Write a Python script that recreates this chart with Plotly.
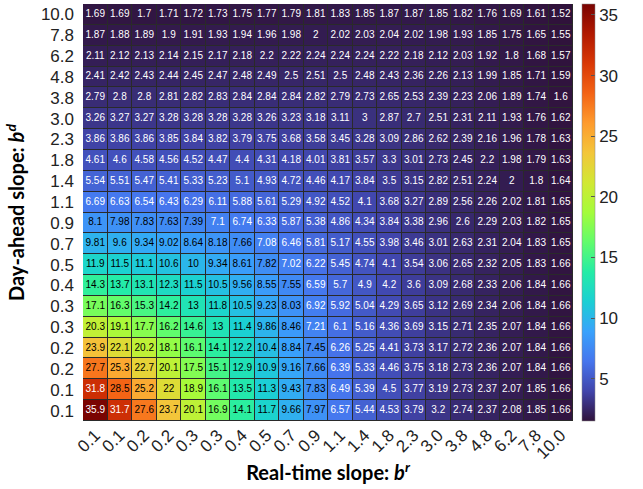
import plotly.graph_objects as go

# Real-time slope b^r (columns, left -> right)
x_labels = ["0.1", "0.1", "0.2", "0.2", "0.3", "0.3", "0.4", "0.5", "0.7", "0.9",
            "1.1", "1.4", "1.8", "2.3", "3.0", "3.8", "4.8", "6.2", "7.8", "10.0"]
# Day-ahead slope b^d (rows, top -> bottom)
y_labels = ["10.0", "7.8", "6.2", "4.8", "3.8", "3.0", "2.3", "1.8", "1.4", "1.1",
            "0.9", "0.7", "0.5", "0.4", "0.3", "0.3", "0.2", "0.2", "0.1", "0.1"]

row_01 = [1.69, 1.69, 1.7, 1.71, 1.72, 1.73, 1.75, 1.77, 1.79, 1.81, 1.83, 1.85, 1.87, 1.87, 1.85, 1.82, 1.76, 1.69, 1.61, 1.52]
row_02 = [1.87, 1.88, 1.89, 1.9, 1.91, 1.93, 1.94, 1.96, 1.98, 2, 2.02, 2.03, 2.04, 2.02, 1.98, 1.93, 1.85, 1.75, 1.65, 1.55]
row_03 = [2.11, 2.12, 2.13, 2.14, 2.15, 2.17, 2.18, 2.2, 2.22, 2.24, 2.24, 2.24, 2.22, 2.18, 2.12, 2.03, 1.92, 1.8, 1.68, 1.57]
row_04 = [2.41, 2.42, 2.43, 2.44, 2.45, 2.47, 2.48, 2.49, 2.5, 2.51, 2.5, 2.48, 2.43, 2.36, 2.26, 2.13, 1.99, 1.85, 1.71, 1.59]
row_05 = [2.79, 2.8, 2.8, 2.81, 2.82, 2.83, 2.84, 2.84, 2.84, 2.82, 2.79, 2.73, 2.65, 2.53, 2.39, 2.23, 2.06, 1.89, 1.74, 1.6]
row_06 = [3.26, 3.27, 3.27, 3.28, 3.28, 3.28, 3.28, 3.26, 3.23, 3.18, 3.11, 3, 2.87, 2.7, 2.51, 2.31, 2.11, 1.93, 1.76, 1.62]
row_07 = [3.86, 3.86, 3.86, 3.85, 3.84, 3.82, 3.79, 3.75, 3.68, 3.58, 3.45, 3.28, 3.09, 2.86, 2.62, 2.39, 2.16, 1.96, 1.78, 1.63]
row_08 = [4.61, 4.6, 4.58, 4.56, 4.52, 4.47, 4.4, 4.31, 4.18, 4.01, 3.81, 3.57, 3.3, 3.01, 2.73, 2.45, 2.2, 1.98, 1.79, 1.63]
row_09 = [5.54, 5.51, 5.47, 5.41, 5.33, 5.23, 5.1, 4.93, 4.72, 4.46, 4.17, 3.84, 3.5, 3.15, 2.82, 2.51, 2.24, 2, 1.8, 1.64]
row_10 = [6.69, 6.63, 6.54, 6.43, 6.29, 6.11, 5.88, 5.61, 5.29, 4.92, 4.52, 4.1, 3.68, 3.27, 2.89, 2.56, 2.26, 2.02, 1.81, 1.65]
row_11 = [8.1, 7.98, 7.83, 7.63, 7.39, 7.1, 6.74, 6.33, 5.87, 5.38, 4.86, 4.34, 3.84, 3.38, 2.96, 2.6, 2.29, 2.03, 1.82, 1.65]
row_12 = [9.81, 9.6, 9.34, 9.02, 8.64, 8.18, 7.66, 7.08, 6.46, 5.81, 5.17, 4.55, 3.98, 3.46, 3.01, 2.63, 2.31, 2.04, 1.83, 1.65]
row_13 = [11.9, 11.5, 11.1, 10.6, 10, 9.34, 8.61, 7.82, 7.02, 6.22, 5.45, 4.74, 4.1, 3.54, 3.06, 2.65, 2.32, 2.05, 1.83, 1.66]
row_14 = [14.3, 13.7, 13.1, 12.3, 11.5, 10.5, 9.56, 8.55, 7.55, 6.59, 5.7, 4.9, 4.2, 3.6, 3.09, 2.68, 2.33, 2.06, 1.84, 1.66]
row_15 = [17.1, 16.3, 15.3, 14.2, 13, 11.8, 10.5, 9.23, 8.03, 6.92, 5.92, 5.04, 4.29, 3.65, 3.12, 2.69, 2.34, 2.06, 1.84, 1.66]
row_16 = [20.3, 19.1, 17.7, 16.2, 14.6, 13, 11.4, 9.86, 8.46, 7.21, 6.1, 5.16, 4.36, 3.69, 3.15, 2.71, 2.35, 2.07, 1.84, 1.66]
row_17 = [23.9, 22.1, 20.2, 18.1, 16.1, 14.1, 12.2, 10.4, 8.84, 7.45, 6.26, 5.25, 4.41, 3.73, 3.17, 2.72, 2.36, 2.07, 1.84, 1.66]
row_18 = [27.7, 25.3, 22.7, 20.1, 17.5, 15.1, 12.9, 10.9, 9.16, 7.66, 6.39, 5.33, 4.46, 3.75, 3.18, 2.73, 2.36, 2.07, 1.84, 1.66]
row_19 = [31.8, 28.5, 25.2, 22, 18.9, 16.1, 13.5, 11.3, 9.43, 7.83, 6.49, 5.39, 4.5, 3.77, 3.19, 2.73, 2.37, 2.07, 1.85, 1.66]
row_20 = [35.9, 31.7, 27.6, 23.7, 20.1, 16.9, 14.1, 11.7, 9.66, 7.97, 6.57, 5.44, 4.53, 3.79, 3.2, 2.74, 2.37, 2.08, 1.85, 1.66]

z = [row_01, row_02, row_03, row_04, row_05, row_06, row_07, row_08, row_09, row_10,
     row_11, row_12, row_13, row_14, row_15, row_16, row_17, row_18, row_19, row_20]

xi = list(range(len(x_labels)))
yi = list(range(len(y_labels)))

fig = go.Figure()
fig.add_trace(go.Heatmap(
    z=z, x=xi, y=yi,
    colorscale="Turbo",
    zmin=min(min(r) for r in z), zmax=max(max(r) for r in z),
    xgap=1, ygap=1,
    hoverinfo="skip",
    colorbar=dict(
        x=1.018, xanchor="left", xpad=0, y=0.5, yanchor="middle", ypad=0,
        len=1.0, lenmode="fraction",
        thickness=13, outlinewidth=0.5, outlinecolor="#888",
        tickvals=[5, 10, 15, 20, 25, 30, 35],
        tickfont=dict(family="Liberation Sans, Arial, sans-serif", size=17, color="#222"),
        ticks="inside", ticklen=4, tickcolor="#555",
    ),
))

tx, ty, tt, tc = [], [], [], []
for r, row in enumerate(z):
    for c, v in enumerate(row):
        tx.append(c)
        ty.append(r)
        tt.append("{:.3g}".format(v))
        tc.append("black" if 7.3 <= v <= 29 else "white")

fig.add_trace(go.Scatter(
    x=tx, y=ty, mode="text", text=tt,
    textfont=dict(family="Liberation Sans, Arial, sans-serif", size=10, color=tc),
    hoverinfo="skip", showlegend=False,
))

tick_font = dict(family="Liberation Sans, Arial, sans-serif", size=17, color="#222")
title_font = dict(family="Lato, sans-serif", size=20, color="black")

fig.update_layout(
    width=643, height=489,
    margin=dict(l=83, r=70, t=4, b=68),
    paper_bgcolor="white", plot_bgcolor="#2a2a2a",
    xaxis=dict(
        tickmode="array", tickvals=xi, ticktext=x_labels, tickangle=-45,
        range=[-0.5, len(xi) - 0.5], showgrid=False, zeroline=False,
        tickfont=tick_font, ticks="",
        title=dict(text="<b>Real-time slope: <i>b</i><sup><i>r</i></sup></b>", font=title_font, standoff=4),
    ),
    yaxis=dict(
        tickmode="array", tickvals=yi, ticktext=y_labels,
        range=[len(yi) - 0.5, -0.5], showgrid=False, zeroline=False,
        tickfont=tick_font, ticks="", ticklabelstandoff=8,
        title=dict(text="<b>Day-ahead slope: <i>b</i><sup><i>d</i></sup></b>", font=title_font, standoff=10),
    ),
)

fig.write_html("out.html")
